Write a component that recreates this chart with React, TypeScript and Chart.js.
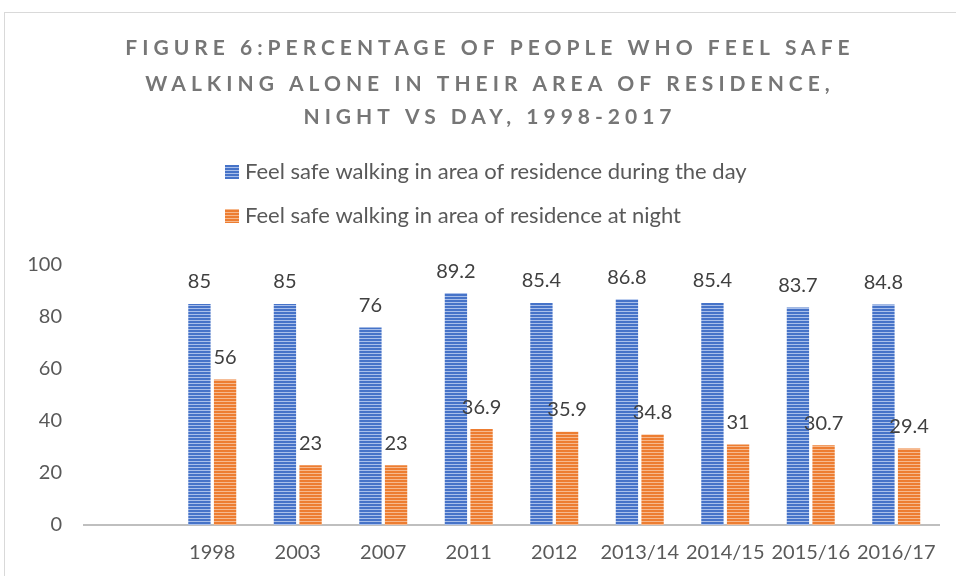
import { useEffect, useRef } from 'react';
import { Chart, registerables } from 'chart.js';

Chart.register(...registerables);

const categories = ['', '1998', '2003', '2007', '2011', '2012', '2013/14', '2014/15', '2015/16', '2016/17'];
const daySafe: (number | null)[] = [null, 85, 85, 76, 89.2, 85.4, 86.8, 85.4, 83.7, 84.8];
const nightSafe: (number | null)[] = [null, 56, 23, 23, 36.9, 35.9, 34.8, 31, 30.7, 29.4];
const seriesNames = [
  'Feel safe walking in area of residence during the day',
  'Feel safe walking in area of residence at night',
];
const titleLines = [
  'FIGURE 6:PERCENTAGE OF PEOPLE WHO FEEL SAFE',
  'WALKING ALONE IN THEIR AREA OF RESIDENCE,',
  'NIGHT VS DAY, 1998-2017',
];
const yMin = 0;
const yMax = 100;
const yStep = 20;

const FONT = 'Lato, "Noto Sans", sans-serif';

function makePattern(dark: string, light: string): CanvasPattern | string {
  const c = document.createElement('canvas');
  c.width = 4;
  c.height = 3;
  const g = c.getContext('2d');
  if (!g) return dark;
  g.fillStyle = dark;
  g.fillRect(0, 0, 4, 2);
  g.fillStyle = light;
  g.fillRect(0, 2, 4, 1);
  const p = g.createPattern(c, 'repeat');
  return p || dark;
}

export default function App() {
  const ref = useRef<HTMLCanvasElement | null>(null);

  useEffect(() => {
    if (!ref.current) return;
    const bluePat = makePattern('#4673c8', '#a9bfea');
    const orangePat = makePattern('#ed7d31', '#f6b98e');

    const deco = {
      id: 'deco',
      beforeDraw(chart: any) {
        const ctx = chart.ctx;
        ctx.save();
        ctx.fillStyle = '#ffffff';
        ctx.fillRect(0, 0, chart.width, chart.height);
        ctx.strokeStyle = '#d9d9d9';
        ctx.lineWidth = 1;
        ctx.strokeRect(4.5, 12.5, 1200, 1200);
        ctx.restore();
      },
      afterDraw(chart: any) {
        const ctx = chart.ctx;
        ctx.save();
        // title
        ctx.fillStyle = '#767676';
        ctx.font = `bold 21px ${FONT}`;
        ctx.textAlign = 'center';
        ctx.textBaseline = 'middle';
        (ctx as any).letterSpacing = '5px';
        const ty = [48, 84, 117];
        titleLines.forEach((t, i) => ctx.fillText(t, 490, ty[i]));
        (ctx as any).letterSpacing = '0px';
        // legend
        const pats = [bluePat, orangePat];
        const ly = [172, 216];
        ctx.font = `22px ${FONT}`;
        ctx.textAlign = 'left';
        seriesNames.forEach((n, i) => {
          ctx.fillStyle = pats[i];
          ctx.fillRect(225, ly[i] - 7, 14, 14);
          ctx.fillStyle = '#595959';
          ctx.fillText(n, 245, ly[i]);
        });
        // data labels
        ctx.font = `20px ${FONT}`;
        ctx.fillStyle = '#404040';
        ctx.textAlign = 'center';
        chart.data.datasets.forEach((ds: any, di: number) => {
          const meta = chart.getDatasetMeta(di);
          meta.data.forEach((bar: any, i: number) => {
            const v = ds.data[i];
            if (v === null || v === undefined) return;
            ctx.fillText(String(v), bar.x, bar.y - 22);
          });
        });
        ctx.restore();
      },
    };

    const chart = new Chart(ref.current, {
      type: 'bar',
      data: {
        labels: categories,
        datasets: [
          { label: seriesNames[0], data: daySafe, backgroundColor: bluePat as any, barPercentage: 0.87, categoryPercentage: 0.6 },
          { label: seriesNames[1], data: nightSafe, backgroundColor: orangePat as any, barPercentage: 0.87, categoryPercentage: 0.6 },
        ],
      },
      options: {
        responsive: false,
        animation: false,
        layout: { padding: { top: 265, right: 17, bottom: 0, left: 0 } },
        plugins: {
          legend: { display: false },
          title: { display: false },
          tooltip: { enabled: false },
        },
        scales: {
          x: {
            grid: { display: false, drawTicks: false },
            border: { display: true, color: '#bfbfbf', width: 2 },
            ticks: { color: '#595959', font: { family: FONT, size: 20 }, padding: 16, maxRotation: 0, autoSkip: false },
            afterFit(scale: any) {
              scale.height = 51;
            },
          },
          y: {
            min: yMin,
            max: yMax,
            grid: { display: false, drawTicks: false },
            border: { display: false },
            ticks: { stepSize: yStep, color: '#595959', font: { family: FONT, size: 20 }, padding: 22 },
            afterFit(scale: any) {
              scale.width = 84;
            },
          },
        },
      },
      plugins: [deco],
    });
    return () => chart.destroy();
  }, []);

  return (
    <div style={{ position: 'fixed', left: 0, top: 0, width: 956, height: 576, overflow: 'hidden', background: '#fff' }}>
      <canvas ref={ref} width={956} height={576} style={{ display: 'block', width: 956, height: 576 }} />
    </div>
  );
}
